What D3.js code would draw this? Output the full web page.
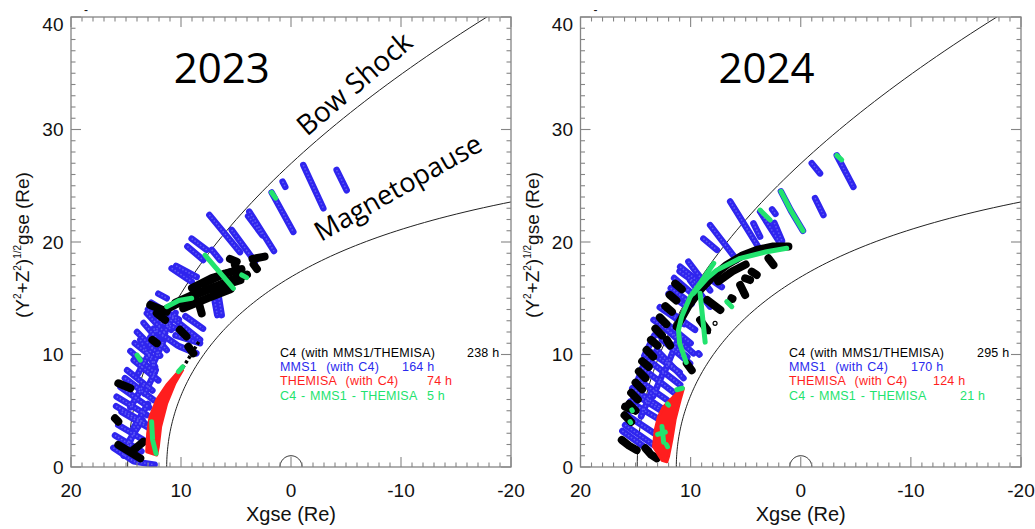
<!DOCTYPE html>
<html>
<head>
<meta charset="utf-8">
<script src="https://cdn.jsdelivr.net/npm/d3@7"></script>
<style>
  body { margin: 0; background: #fff; }
  svg { display: block; }
</style>
</head>
<body>
<svg id="chart" width="1035" height="529"></svg>
<script>
// ---------------------------------------------------------------
// Conjunction orbits of C4, MMS1 and THEMIS-A in the (X, sqrt(Y^2+Z^2)) GSE plane
// ---------------------------------------------------------------
const years = ["2023", "2024"];
const legendLabels = ["C4 (with MMS1/THEMISA)", "MMS1  (with C4)", "THEMISA  (with C4)", "C4 - MMS1 - THEMISA"];
const hours2023 = [238, 164, 74, 5];
const hours2024 = [295, 170, 124, 21];
const xTickLabels = [20, 10, 0, -10, -20];
const yTickLabels = [0, 10, 20, 30, 40];

// Model boundaries (Re)
const bowShockNose = 14.85, bowShockFlare = 49;   // X = nose - R^2 / flare
const mpStandoff = 11.3, mpFlaring = 0.58;         // Shue-type r0, alpha
const earthRadius = 1;

// ---- 2023 tracks: [Xgse, sqrt(Y^2+Z^2)] in Re ----
const mms1_2023 = [
  [[-4.15,26.4],[-5.06,24.6]], [[-1.12,26.84],[-2.94,23.0]], [[0.76,25.36],[0.52,24.9]],
  [[1.76,24.4],[-0.21,20.9]], [[3.79,22.7],[1.55,19.2]], [[3.9,22.3],[2.6,20.6]],
  [[7.42,22.4],[4.64,19.1]], [[5.39,21.07],[3.27,18.25]], [[9.03,20.3],[7.67,19.3]],
  [[9.42,19.6],[7.97,18.4]], [[7.2,19.3],[6.45,18.4]], [[10.85,17.66],[9.03,16.47]],
  [[10.45,17.87],[8.58,16.9]], [[7.06,15.4],[6.7,13.5]], [[6.6,15.3],[6.3,13.5]],
  [[12.06,15.4],[11.3,15.0]], [[13.1,13.66],[11.45,11.9]], [[14.2,11.0],[12.5,9.66]],
  [[11.3,13.66],[8.27,11.3]], [[16.15,1.7],[14.3,0.5],[12.4,0.2]], [[15.7,3.73],[13.4,2.4]],
  [[15.4,4.9],[12.8,3.4]], [[15.85,6.25],[13.1,4.62]], [[15.1,7.9],[12.5,5.96]],
  [[14.3,9.5],[12.06,7.7]], [[13.4,12.8],[11.3,10.4]], [[13.7,11.3],[12.36,8.9]],
  [[10.5,11.7],[8.27,11.0]], [[10.1,10.7],[8.6,10.1]], [[12.2,13.1],[9.5,11.9]],
  [[14.8,2.2],[13.5,4.2]], [[14.6,5.3],[13.4,7.3]], [[13.9,8.3],[12.6,10.6]],
  [[12.8,11.5],[11.2,13.5]], [[12.5,12.3],[10.3,10.8]],
  [[16.0,2.8],[13.6,1.4]], [[15.9,5.4],[13.3,3.9]], [[15.5,7.1],[12.9,5.3]],
  [[14.9,8.6],[12.6,6.8]], [[14.6,10.3],[12.4,8.4]], [[14.0,12.0],[11.9,9.9]],
  [[13.0,14.0],[10.9,12.2]], [[12.7,14.6],[10.2,13.1]],
  [[15.2,1.0],[14.3,3.0]], [[14.3,3.5],[13.0,5.6]], [[13.3,6.5],[12.3,8.6]],
  [[12.6,9.0],[11.6,11.2]], [[11.7,11.6],[10.5,13.7]], [[9.6,13.4],[8.0,12.3]]
];
const c4_2023 = [
  [[11.6,13.9],[9.6,14.9],[7.7,15.7],[5.8,16.5],[4.0,17.1]],
  [[10.5,14.6],[8.5,15.5],[6.3,16.1],[4.6,16.6]],
  [[9.0,15.9],[7.2,16.8],[5.2,17.4]],
  [[11.0,14.2],[9.0,15.2],[7.0,16.0]], [[8.0,16.3],[6.0,17.2],[4.5,17.6]],
  [[9.8,14.1],[7.6,15.0],[5.5,15.8]],
  [[3.5,18.5],[2.4,18.7]], [[3.4,18.0],[3.1,17.6]], [[5.55,18.5],[4.94,18.25]],
  [[5.1,17.96],[4.8,17.36]], [[12.8,14.4],[11.3,13.8]], [[8.42,14.7],[8.12,13.66]],
  [[12.2,13.66],[11.45,13.07]], [[10.1,12.2],[9.5,11.6]], [[9.33,10.7],[8.88,10.1]],
  [[15.7,7.44],[14.6,7.0]], [[15.7,1.96],[13.7,0.77]], [[14.5,1.36],[13.4,2.25]],
  [[16.0,4.33],[15.7,4.03]], [[12.6,11.3],[12.2,11.0]]
];
const c4Dotted_2023 = [[[10.4,8.0],[9.4,9.5],[8.27,11.3]]];
const themisa_2023 = [
  [13.12,1.36],[13.03,2.99],[12.82,4.47],[12.21,5.96],[11.3,7.29],[10.1,8.62],
  [9.85,8.62],[10.55,7.44],[11.3,5.66],[11.85,3.59],[12.06,1.81],[12.21,1.07]
];
const joint_2023 = [
  [[7.82,18.84],[5.24,15.88]], [[11.3,14.25],[10.2,14.8],[9.03,15.0]], [[4.48,17.07],[4.03,16.83]],
  [[1.76,24.4],[1.4,23.9]], [[14.0,9.95],[13.7,9.5]], [[12.67,4.03],[12.58,2.4],[12.27,1.2]],
  [[10.24,8.47],[9.85,8.9]]
];

// ---- 2024 tracks ----
const mms1_2024 = [
  [[-3.27,27.7],[-4.78,24.9]], [[-1.0,27.0],[-1.75,26.1]], [[-1.3,23.9],[-2.06,22.4]],
  [[1.8,24.5],[0.9,22.8],[-0.2,21.0]], [[3.69,22.7],[1.88,19.9]], [[2.6,22.9],[2.3,22.5]],
  [[2.4,21.7],[1.7,20.1]], [[6.41,23.6],[3.69,19.3]], [[4.3,21.66],[3.69,20.47]],
  [[8.23,21.5],[5.81,18.4]], [[8.84,20.3],[7.62,19.3]], [[10.2,18.25],[8.23,15.7]],
  [[10.95,17.8],[9.44,16.6]], [[8.53,16.9],[7.17,16.0]], [[12.0,15.4],[10.35,14.25]],
  [[13.37,13.07],[11.26,11.6]], [[10.05,16.6],[8.23,14.25]],
  [[15.95,3.73],[13.37,1.96]], [[15.8,4.62],[13.07,2.84]], [[15.5,5.8],[12.77,4.18]],
  [[15.2,6.55],[12.77,5.07]], [[14.73,7.73],[12.16,5.96]], [[13.83,9.5],[10.95,7.3]],
  [[13.07,10.4],[10.65,7.9]], [[12.6,11.3],[10.05,9.2]], [[12.16,12.2],[9.74,10.1]],
  [[15.6,5.0],[14.9,6.8]], [[14.9,7.5],[14.1,9.3]], [[14.2,9.9],[13.3,11.7]],
  [[12.8,14.2],[10.6,12.7]], [[11.8,15.9],[9.9,14.5]], [[9.3,10.1],[9.2,10.0]],
  [[16.2,3.2],[13.8,1.5]], [[15.3,7.0],[12.6,5.2]], [[14.4,8.8],[11.5,6.6]],
  [[13.6,10.2],[11.0,8.4]], [[13.0,11.8],[10.3,9.8]], [[12.5,13.0],[10.0,11.0]],
  [[12.2,14.0],[9.6,12.2]], [[11.5,16.8],[9.6,15.2]], [[11.0,17.4],[9.0,16.0]],
  [[14.5,4.5],[13.5,6.8]], [[13.4,6.3],[12.4,8.6]], [[12.3,8.6],[11.3,11.0]]
];
const c4_2024 = [
  [[11.26,12.47],[10.2,14.3],[9.14,15.73],[7.9,17.0],[6.72,17.96],[5.3,18.8],[4.0,19.3],[2.5,19.6],[1.12,19.6]],
  [[7.5,16.5],[6.2,17.4],[5.0,18.0]],
  [[2.93,18.55],[2.48,17.96]], [[4.45,17.36],[4.0,17.07]], [[5.05,16.77],[4.6,16.62]],
  [[5.5,16.18],[5.05,15.29]], [[6.3,15.0],[6.2,14.95]],
  [[16.0,4.6],[15.4,4.0]], [[15.6,5.6],[15.0,5.0]], [[15.4,6.6],[14.8,6.0]], [[15.0,7.5],[14.4,6.9]],
  [[14.7,8.5],[14.1,7.9]], [[14.4,9.4],[13.8,8.9]], [[14.0,10.4],[13.4,9.8]], [[13.6,11.3],[13.0,10.8]],
  [[13.2,12.3],[12.6,11.7]], [[12.8,13.3],[12.2,12.7]], [[12.3,14.3],[11.7,13.8]], [[11.9,15.3],[11.3,14.8]],
  [[11.4,16.3],[10.8,15.8]],
  [[16.25,2.4],[15.6,1.9],[14.9,1.5]], [[14.1,1.66],[13.6,1.1],[13.07,0.77]], [[15.95,5.36],[15.2,5.07]],
  [[10.35,9.2],[9.9,8.6]], [[12.16,11.3],[11.86,10.8]], [[9.14,13.07],[8.5,12.2]], [[8.5,14.84],[7.3,13.96]]
];
const c4Circles_2024 = [[7.78,12.77],[8.38,12.03]];
const themisa_2024 = [
  [13.37,1.81],[13.22,3.29],[12.92,4.47],[12.46,5.36],[11.86,5.96],[10.95,6.84],
  [10.65,6.99],[10.95,5.96],[11.41,4.2],[11.71,2.4],[12.01,0.92],[12.16,0.47],[12.6,0.6]
];
const joint_2024 = [
  [[9.74,15.44],[8.5,16.8],[7.62,17.5],[5.5,18.55],[3.09,19.14],[1.27,19.44]],
  [[7.9,18.1],[9.1,16.4],[10.05,15.1],[10.8,13.4],[11.1,12.2],[11.0,11.0],[10.4,9.3]],
  [[9.14,15.44],[8.68,11.1]],
  [[1.8,24.5],[0.9,22.8],[-0.2,21.0]], [[3.69,22.84],[2.78,21.96]], [[-3.27,27.7],[-3.72,27.3]],
  [[15.34,5.07],[15.3,5.0]], [[15.5,4.03],[15.45,3.95]], [[6.72,14.7],[6.26,14.25]],
  [[13.0,2.9],[12.3,3.1]], [[12.6,3.6],[12.45,2.2]], [[12.2,2.0],[12.1,1.8]], [[12.1,5.6],[12.0,5.5]],
  [[11.26,6.87],[10.75,7.0]]
];

// ---- colours ----
const colC4 = "#000000", colMMS = "#2f25ee", colTH = "#ff1e1e", colJoint = "#22e36e";
const legendColors = [colC4, "#2a2aee", colTH, colJoint];

const panels = [
  { year: years[0], left: 71, right: 511, hours: hours2023, hourDx: [187, 122, 147, 147],
    mms: mms1_2023, c4: c4_2023, c4dot: c4Dotted_2023, circles: [], th: themisa_2023, joint: joint_2023,
    boundaryLabels: true, legendX: 280 },
  { year: years[1], left: 580.5, right: 1021, hours: hours2024, hourDx: [188, 122, 144, 171],
    mms: mms1_2024, c4: c4_2024, c4dot: [], circles: c4Circles_2024, th: themisa_2024, joint: joint_2024,
    boundaryLabels: false, legendX: 789 }
];

const svg = d3.select("#chart");
const plotTop = 17, plotBottom = 467;

panels.forEach((p, i) => {
  const x = d3.scaleLinear().domain([20, -20]).range([p.left, p.right]);
  const y = d3.scaleLinear().domain([0, 40]).range([plotBottom, plotTop]);
  const line = d3.line().x(d => x(d[0])).y(d => y(d[1]));
  const g = svg.append("g");

  const clipId = "clip" + i;
  svg.append("defs").append("clipPath").attr("id", clipId)
    .append("rect").attr("x", p.left).attr("y", plotTop)
    .attr("width", p.right - p.left).attr("height", plotBottom - plotTop);
  const plot = g.append("g").attr("clip-path", `url(#${clipId})`);

  // bow shock and magnetopause models
  const bsPts = d3.range(0, 44.01, 0.5).map(r => [bowShockNose - r * r / bowShockFlare, r]);
  const mpPts = d3.range(0, 2.7, 0.02).map(t => {
    const r = mpStandoff * Math.pow(2 / (1 + Math.cos(t)), mpFlaring);
    return [r * Math.cos(t), r * Math.sin(t)];
  });
  plot.append("path").attr("d", line(bsPts)).attr("fill", "none").attr("stroke", "#222").attr("stroke-width", 1);
  plot.append("path").attr("d", line(mpPts)).attr("fill", "none").attr("stroke", "#222").attr("stroke-width", 1);
  const earth = d3.range(0, Math.PI + 0.001, Math.PI / 40).map(t => [earthRadius * Math.cos(t), earthRadius * Math.sin(t)]);
  plot.append("path").attr("d", line(earth)).attr("fill", "none").attr("stroke", "#222").attr("stroke-width", 1);

  // MMS1 tracks
  plot.selectAll(".mms").data(p.mms).join("path").attr("class", "mms")
    .attr("d", line).attr("fill", "none").attr("stroke", colMMS)
    .attr("stroke-width", 6.5).attr("stroke-linecap", "round").attr("stroke-linejoin", "round");
  plot.selectAll(".mmsIn").data(p.mms).join("path").attr("class", "mmsIn")
    .attr("d", line).attr("fill", "none").attr("stroke", "#5e59f4")
    .attr("stroke-width", 1.6).attr("stroke-dasharray", "1.5,2");

  // C4 tracks
  plot.selectAll(".c4").data(p.c4).join("path").attr("class", "c4")
    .attr("d", line).attr("fill", "none").attr("stroke", colC4)
    .attr("stroke-width", 8).attr("stroke-linecap", "round").attr("stroke-linejoin", "round");
  plot.selectAll(".c4dot").data(p.c4dot).join("path").attr("class", "c4dot")
    .attr("d", line).attr("fill", "none").attr("stroke", colC4)
    .attr("stroke-width", 3.5).attr("stroke-dasharray", "3,2.5");
  plot.selectAll(".c4c").data(p.circles).join("circle").attr("class", "c4c")
    .attr("cx", d => x(d[0])).attr("cy", d => y(d[1])).attr("r", 2)
    .attr("fill", "none").attr("stroke", colC4).attr("stroke-width", 1.2);

  // THEMIS-A coverage
  plot.append("path").attr("d", line(p.th) + "Z").attr("fill", colTH)
    .attr("stroke", colTH).attr("stroke-width", 3).attr("stroke-linejoin", "round");

  // triple conjunctions
  plot.selectAll(".joint").data(p.joint).join("path").attr("class", "joint")
    .attr("d", line).attr("fill", "none").attr("stroke", colJoint)
    .attr("stroke-width", 5).attr("stroke-linecap", "round").attr("stroke-linejoin", "round");

  // frame and ticks (inward, minor every 1 Re, major every 10 Re)
  const axisCol = "#858585";
  g.append("rect").attr("x", p.left).attr("y", plotTop).attr("width", p.right - p.left).attr("height", plotBottom - plotTop)
    .attr("fill", "none").attr("stroke", axisCol).attr("stroke-width", 1.3);
  const tickG = g.append("g").attr("stroke", axisCol).attr("stroke-width", 1.1);
  d3.range(-20, 21).forEach(v => {
    const len = v % 10 === 0 ? 10 : 4.5;
    tickG.append("line").attr("x1", x(v)).attr("x2", x(v)).attr("y1", plotBottom).attr("y2", plotBottom - len);
    tickG.append("line").attr("x1", x(v)).attr("x2", x(v)).attr("y1", plotTop).attr("y2", plotTop + len);
  });
  d3.range(0, 41).forEach(v => {
    const len = v % 10 === 0 ? 10 : 4.5;
    tickG.append("line").attr("y1", y(v)).attr("y2", y(v)).attr("x1", p.left).attr("x2", p.left + len);
    tickG.append("line").attr("y1", y(v)).attr("y2", y(v)).attr("x1", p.right).attr("x2", p.right - len);
  });

  // tick labels
  const tickFont = "'Liberation Sans', Arial, sans-serif";
  g.selectAll(".xl").data(xTickLabels).join("text").attr("class", "xl")
    .attr("x", d => x(d)).attr("y", 497).attr("text-anchor", "middle")
    .attr("font-family", tickFont).attr("font-size", 19).attr("fill", "#111").text(d => d);
  g.selectAll(".yl").data(yTickLabels).join("text").attr("class", "yl")
    .attr("x", p.left - 7.5).attr("y", d => Math.max(y(d) + 6.8, 31)).attr("text-anchor", "end")
    .attr("font-family", tickFont).attr("font-size", 19).attr("fill", "#111").text(d => d);

  // axis titles
  g.append("text").attr("x", (p.left + p.right) / 2).attr("y", 521).attr("text-anchor", "middle")
    .attr("font-family", tickFont).attr("font-size", 20).attr("fill", "#111").text("Xgse (Re)");
  const yt = g.append("text").attr("transform", `translate(${p.left - 42},245) rotate(-90)`)
    .attr("text-anchor", "middle").attr("font-family", tickFont).attr("font-size", 19).attr("fill", "#111");
  yt.append("tspan").text("(Y");
  yt.append("tspan").attr("font-size", 10).attr("dy", -8).text("2");
  yt.append("tspan").attr("dy", 8).text("+Z");
  yt.append("tspan").attr("font-size", 10).attr("dy", -8).text("2");
  yt.append("tspan").attr("dy", 8).text(")");
  yt.append("tspan").attr("font-size", 10).attr("dy", -8).text("1/2");
  yt.append("tspan").attr("dy", 8).text("gse (Re)");

  // small mark above the frame
  g.append("text").attr("x", p.left + 15).attr("y", 14).attr("text-anchor", "middle")
    .attr("font-family", tickFont).attr("font-size", 12).attr("fill", "#111").text("-");

  // year title
  g.append("text").attr("x", x(i === 0 ? 6.3 : 3.1)).attr("y", 83).attr("text-anchor", "middle")
    .attr("font-family", "'Open Sans', sans-serif").attr("font-size", 42).attr("fill", "#000").text(p.year);

  // boundary labels
  if (p.boundaryLabels) {
    g.append("text").attr("transform", "translate(307,137) rotate(-40.5)")
      .attr("font-family", "'Open Sans', sans-serif").attr("font-size", 28).attr("fill", "#000").text("Bow Shock");
    g.append("text").attr("transform", "translate(321,242) rotate(-29.5)")
      .attr("font-family", "'Open Sans', sans-serif").attr("font-size", 27).attr("fill", "#000").text("Magnetopause");
  }

  // legend
  legendLabels.forEach((lab, k) => {
    const by = 357 + k * 14.2;
    g.append("text").attr("x", p.legendX).attr("y", by)
      .attr("font-family", tickFont).attr("font-size", 12.5).attr("letter-spacing", 0.2)
      .attr("word-spacing", 1).attr("fill", legendColors[k]).attr("xml:space", "preserve").text(lab);
    g.append("text").attr("x", p.legendX + p.hourDx[k]).attr("y", by)
      .attr("font-family", tickFont).attr("font-size", 12.5).attr("letter-spacing", 0.2)
      .attr("fill", legendColors[k]).text(p.hours[k] + " h");
  });
});
</script>
</body>
</html>
